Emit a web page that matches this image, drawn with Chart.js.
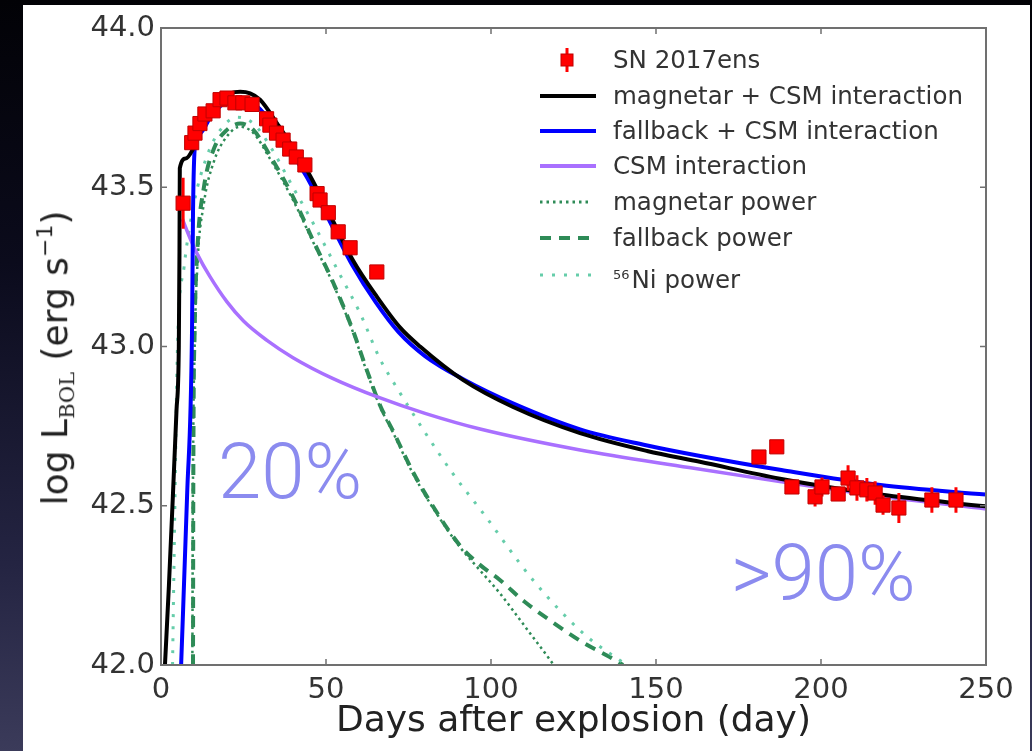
<!DOCTYPE html>
<html>
<head>
<meta charset="utf-8">
<script src="https://cdn.jsdelivr.net/npm/chart.js@4.4.1/dist/chart.umd.min.js"></script>
<style>
    html, body { margin: 0; padding: 0; }
    body {
        width: 1032px; height: 751px; overflow: hidden; position: relative;
        background: linear-gradient(to bottom, #020206 0%, #0b0b1c 35%, #242442 75%, #3b3b5a 100%);
        font-family: 'DejaVu Sans', sans-serif;
    }
    #panel { position: absolute; left: 23px; top: 5px; width: 1007px; height: 746px; background: #fff; }
    #lc { position: absolute; left: 0; top: 0; }
    #ytitle {
        position: absolute; left: 56px; top: 358px; white-space: nowrap;
        transform: translate(-50%, -50%) rotate(-90deg);
        font-size: 36px; color: #222; line-height: 40px;
    }
    #ytitle sub { font-family: 'DejaVu Serif', serif; font-size: 21px; vertical-align: -0.3em; }
    #ytitle sup { font-size: 22px; vertical-align: 0.7em; }
    .row { position: absolute; left: 540px; height: 28px; white-space: nowrap; }
    .row svg { position: absolute; left: 0; top: 0; }
    .row span { position: absolute; left: 73px; top: 0; font-size: 24.5px; line-height: 28px; color: #333; }
    .row sup { font-size: 13px; vertical-align: 0.7em; margin-right: 2px; }
    .pct { position: absolute; font-family: 'Roboto', 'Lato', sans-serif; font-weight: 300;
           font-size: 78px; line-height: 78px; color: #8b8bef; white-space: nowrap; }
</style>
</head>
<body>
<div id="panel"></div>
<canvas id="lc" width="1032" height="751"></canvas>
<div id="ytitle">log L<sub>BOL</sub> (erg s<sup>&minus;1</sup>)</div>

<div class="row" style="top:46px">
    <svg width="60" height="28"><line x1="27" y1="2" x2="27" y2="26" stroke="#ff0000" stroke-width="3"/><rect x="21" y="8" width="12" height="12" fill="#ff0000" stroke="#c00000" stroke-width="1"/></svg>
    <span>SN 2017ens</span>
</div>
<div class="row" style="top:82px">
    <svg width="60" height="28"><line x1="0" y1="14" x2="56" y2="14" stroke="#000" stroke-width="4"/></svg>
    <span>magnetar + CSM interaction</span>
</div>
<div class="row" style="top:117px">
    <svg width="60" height="28"><line x1="0" y1="14" x2="56" y2="14" stroke="#0000ff" stroke-width="4"/></svg>
    <span>fallback + CSM interaction</span>
</div>
<div class="row" style="top:152px">
    <svg width="60" height="28"><line x1="0" y1="14" x2="56" y2="14" stroke="#a970ff" stroke-width="4"/></svg>
    <span>CSM interaction</span>
</div>
<div class="row" style="top:188px">
    <svg width="60" height="28"><line x1="0" y1="14" x2="52" y2="14" stroke="#2e8b57" stroke-width="3" stroke-dasharray="2.5 4"/></svg>
    <span>magnetar power</span>
</div>
<div class="row" style="top:224px">
    <svg width="60" height="28"><line x1="0" y1="14" x2="54" y2="14" stroke="#2e8b57" stroke-width="4" stroke-dasharray="11 8"/></svg>
    <span>fallback power</span>
</div>
<div class="row" style="top:261px">
    <svg width="60" height="28"><line x1="0" y1="14" x2="52" y2="14" stroke="#66cdaa" stroke-width="3" stroke-dasharray="3 9"/></svg>
    <span><sup>56</sup>Ni power</span>
</div>

<div class="pct" style="left:218px; top:433px">20%</div>
<div class="pct" style="left:731px; top:535px">&gt;90%</div>

<script>
// observed light curve of SN 2017ens
var obsDays = [6.7, 9.3, 10.3, 11.8, 13.3, 15.8, 17.9, 20.0, 22.4, 24.8, 27.6, 32.0, 33.0, 35.0, 37.0, 39.0, 41.0, 43.6,
    47.3, 48.2, 50.7, 53.7, 57.3, 65.4,
    181.2, 186.6, 191.2, 198.2, 200.3, 205.2, 208.2, 210.9, 213.9, 216.4, 218.8, 223.6, 233.6, 240.9];
var obsLum = [43.45, 43.64, 43.67, 43.70, 43.73, 43.74, 43.775, 43.78, 43.765, 43.765, 43.76, 43.715, 43.695, 43.67, 43.648, 43.62, 43.595, 43.57,
    43.48, 43.46, 43.42, 43.36, 43.31, 43.234,
    42.653, 42.685, 42.559, 42.528, 42.559, 42.537, 42.587, 42.556, 42.55, 42.54, 42.502, 42.493, 42.518, 42.518];
var obsErr = [0.08, 0.02, 0.02, 0.02, 0.02, 0.02, 0.02, 0.02, 0.02, 0.02, 0.02, 0.02, 0.02, 0.02, 0.02, 0.02, 0.02, 0.02,
    0.02, 0.02, 0.02, 0.02, 0.02, 0.02,
    0.02, 0.02, 0.02, 0.03, 0.03, 0.02, 0.04, 0.04, 0.037, 0.037, 0.03, 0.047, 0.04, 0.04];

// model curves
var magCsmDays = [1.2, 2.4, 3.6, 4.7, 5.4, 5.6, 5.7, 7.5, 9.7, 12, 15, 18, 21, 24, 27, 30, 35.2, 44.2, 52, 58.2, 65.5, 72.4, 78.5,
    91.5, 106.7, 127, 147.3, 163.3, 187.6, 217.9, 250];
var magCsmLum = [42.0, 42.25, 42.53, 42.8, 43.0, 43.3, 43.56, 43.59, 43.62, 43.68, 43.74, 43.775, 43.795, 43.80, 43.795, 43.775, 43.70, 43.554, 43.397, 43.27, 43.155, 43.06, 43.0,
    42.895, 42.81, 42.728, 42.672, 42.638, 42.585, 42.535, 42.498];

var fbCsmDays = [6.1, 7.9, 9.4, 9.7, 10.3, 12, 15, 18, 21, 24, 27, 30, 35, 44, 52, 58, 65, 72, 80, 92, 107, 127, 147, 163, 188, 218, 250];
var fbCsmLum = [42.0, 42.53, 43.05, 43.42, 43.63, 43.67, 43.72, 43.755, 43.775, 43.78, 43.77, 43.745, 43.68, 43.535, 43.375, 43.255, 43.14, 43.045, 42.97, 42.895, 42.82, 42.74, 42.69, 42.657, 42.612, 42.565, 42.535];

var csmDays = [6.5, 8.8, 11, 14.8, 20, 25, 32, 40, 52, 66, 80, 97, 127, 160, 188, 218, 250];
var csmLum = [43.40, 43.34, 43.29, 43.22, 43.14, 43.08, 43.02, 42.965, 42.90, 42.84, 42.79, 42.74, 42.675, 42.62, 42.575, 42.53, 42.49];

var magDays = [9.5, 9.7, 10.2, 11, 13, 16, 20, 24, 28, 33, 40, 46, 52, 58, 62.4, 66.4, 70.3, 76.4, 82, 90.6, 96, 102.7, 110, 117.9, 119];
var magLum = [42.0, 42.6, 43.0, 43.25, 43.45, 43.58, 43.66, 43.69, 43.67, 43.59, 43.46, 43.33, 43.2, 43.05, 42.92, 42.81, 42.73, 42.6, 42.5, 42.37, 42.305, 42.225, 42.125, 42.016, 42.0];

var fbDays = [9.7, 9.8, 10.2, 11, 13, 16, 20, 24, 28, 33, 40, 46, 52, 58, 62.4, 66.4, 70.3, 76.4, 82, 90.6, 96, 102.7, 110, 117.9, 128, 136, 140];
var fbLum = [42.0, 42.6, 43.05, 43.3, 43.5, 43.62, 43.68, 43.70, 43.68, 43.6, 43.47, 43.335, 43.205, 43.055, 42.925, 42.815, 42.735, 42.605, 42.505, 42.375, 42.32, 42.267, 42.2, 42.14, 42.07, 42.025, 42.0];

var niDays = [3.5, 4.2, 5, 7, 10, 14, 18, 23, 28, 33, 40, 47, 54, 60.3, 66.4, 71.5, 79.4, 88.5, 97.6, 112.7, 127.9, 141];
var niLum = [42.0, 42.5, 43.0, 43.25, 43.45, 43.6, 43.68, 43.72, 43.7, 43.63, 43.5, 43.37, 43.23, 43.105, 42.96, 42.87, 42.74, 42.6, 42.477, 42.267, 42.10, 42.0];

var xTicks = [0, 50, 100, 150, 200, 250];
var yTicks = [42.0, 42.5, 43.0, 43.5, 44.0];

function pts(xs, ys) {
    return xs.map(function (x, i) { return {x: x, y: ys[i]}; });
}

// error bars as short vertical segments separated by gaps
var errPts = [];
obsDays.forEach(function (d, i) {
    errPts.push({x: d, y: obsLum[i] - obsErr[i]}, {x: d, y: obsLum[i] + obsErr[i]}, {x: d, y: null});
});

function curve(xs, ys, color, width, dash, order) {
    return {
        data: pts(xs, ys),
        borderColor: color,
        borderWidth: width,
        borderDash: dash,
        pointRadius: 0,
        fill: false,
        cubicInterpolationMode: 'monotone',
        order: order
    };
}

// frame with inward ticks like the original figure
var framePlugin = {
    id: 'frame',
    afterDatasetsDraw: function (chart) {
        var a = chart.chartArea, c = chart.ctx;
        var xs = chart.scales.x, ys = chart.scales.y;
        c.save();
        c.strokeStyle = '#707070';
        c.lineWidth = 1.5;
        xTicks.forEach(function (v) {
            var px = xs.getPixelForValue(v);
            c.beginPath();
            c.moveTo(px, a.bottom); c.lineTo(px, a.bottom - 6);
            c.moveTo(px, a.top); c.lineTo(px, a.top + 6);
            c.stroke();
        });
        yTicks.forEach(function (v) {
            var py = ys.getPixelForValue(v);
            c.beginPath();
            c.moveTo(a.left, py); c.lineTo(a.left + 6, py);
            c.moveTo(a.right, py); c.lineTo(a.right - 6, py);
            c.stroke();
        });
        c.lineWidth = 2;
        c.strokeRect(a.left, a.top, a.right - a.left, a.bottom - a.top);
        c.restore();
    }
};

var tickFont = {family: 'DejaVu Sans', size: 29};

var chart = new Chart(document.getElementById('lc').getContext('2d'), {
    type: 'line',
    data: {
        datasets: [
            {
                label: 'SN 2017ens',
                data: pts(obsDays, obsLum),
                showLine: false,
                pointStyle: 'rect',
                pointRadius: 10,
                backgroundColor: '#ff0000',
                borderColor: '#c00000',
                borderWidth: 1,
                order: 0
            },
            {
                label: 'errors',
                data: errPts,
                borderColor: '#ff0000',
                borderWidth: 3,
                pointRadius: 0,
                spanGaps: false,
                order: 1
            },
            curve(magCsmDays, magCsmLum, '#000000', 4, [], 2),
            curve(fbCsmDays, fbCsmLum, '#0000ff', 4, [], 3),
            curve(csmDays, csmLum, '#a970ff', 3.5, [], 4),
            curve(niDays, niLum, '#66cdaa', 3, [3, 9], 5),
            curve(fbDays, fbLum, '#2e8b57', 4, [11, 8], 6),
            curve(magDays, magLum, '#2e8b57', 2.5, [2.5, 3.5], 7)
        ]
    },
    options: {
        responsive: false,
        animation: false,
        devicePixelRatio: 1,
        layout: {padding: {left: 0, top: 28, right: 46, bottom: 0}},
        plugins: {
            legend: {display: false},
            tooltip: {enabled: false}
        },
        scales: {
            x: {
                type: 'linear',
                min: 0,
                max: 250,
                afterBuildTicks: function (s) { s.ticks = xTicks.map(function (v) { return {value: v}; }); },
                afterFit: function (s) { s.height = 86; },
                grid: {display: false, drawTicks: false},
                border: {display: false},
                ticks: {font: tickFont, color: '#333', padding: 8, maxRotation: 0, autoSkip: false},
                title: {
                    display: true,
                    text: 'Days after explosion (day)',
                    font: {family: 'DejaVu Sans', size: 36},
                    color: '#222',
                    padding: {top: 0, bottom: 8}
                }
            },
            y: {
                type: 'linear',
                min: 42,
                max: 44,
                afterBuildTicks: function (s) { s.ticks = yTicks.map(function (v) { return {value: v}; }); },
                afterFit: function (s) { s.width = 161; },
                grid: {display: false, drawTicks: false},
                border: {display: false},
                ticks: {
                    font: tickFont, color: '#333', padding: 6, autoSkip: false,
                    callback: function (v) { return v.toFixed(1); }
                }
            }
        }
    },
    plugins: [framePlugin]
});
</script>
</body>
</html>
